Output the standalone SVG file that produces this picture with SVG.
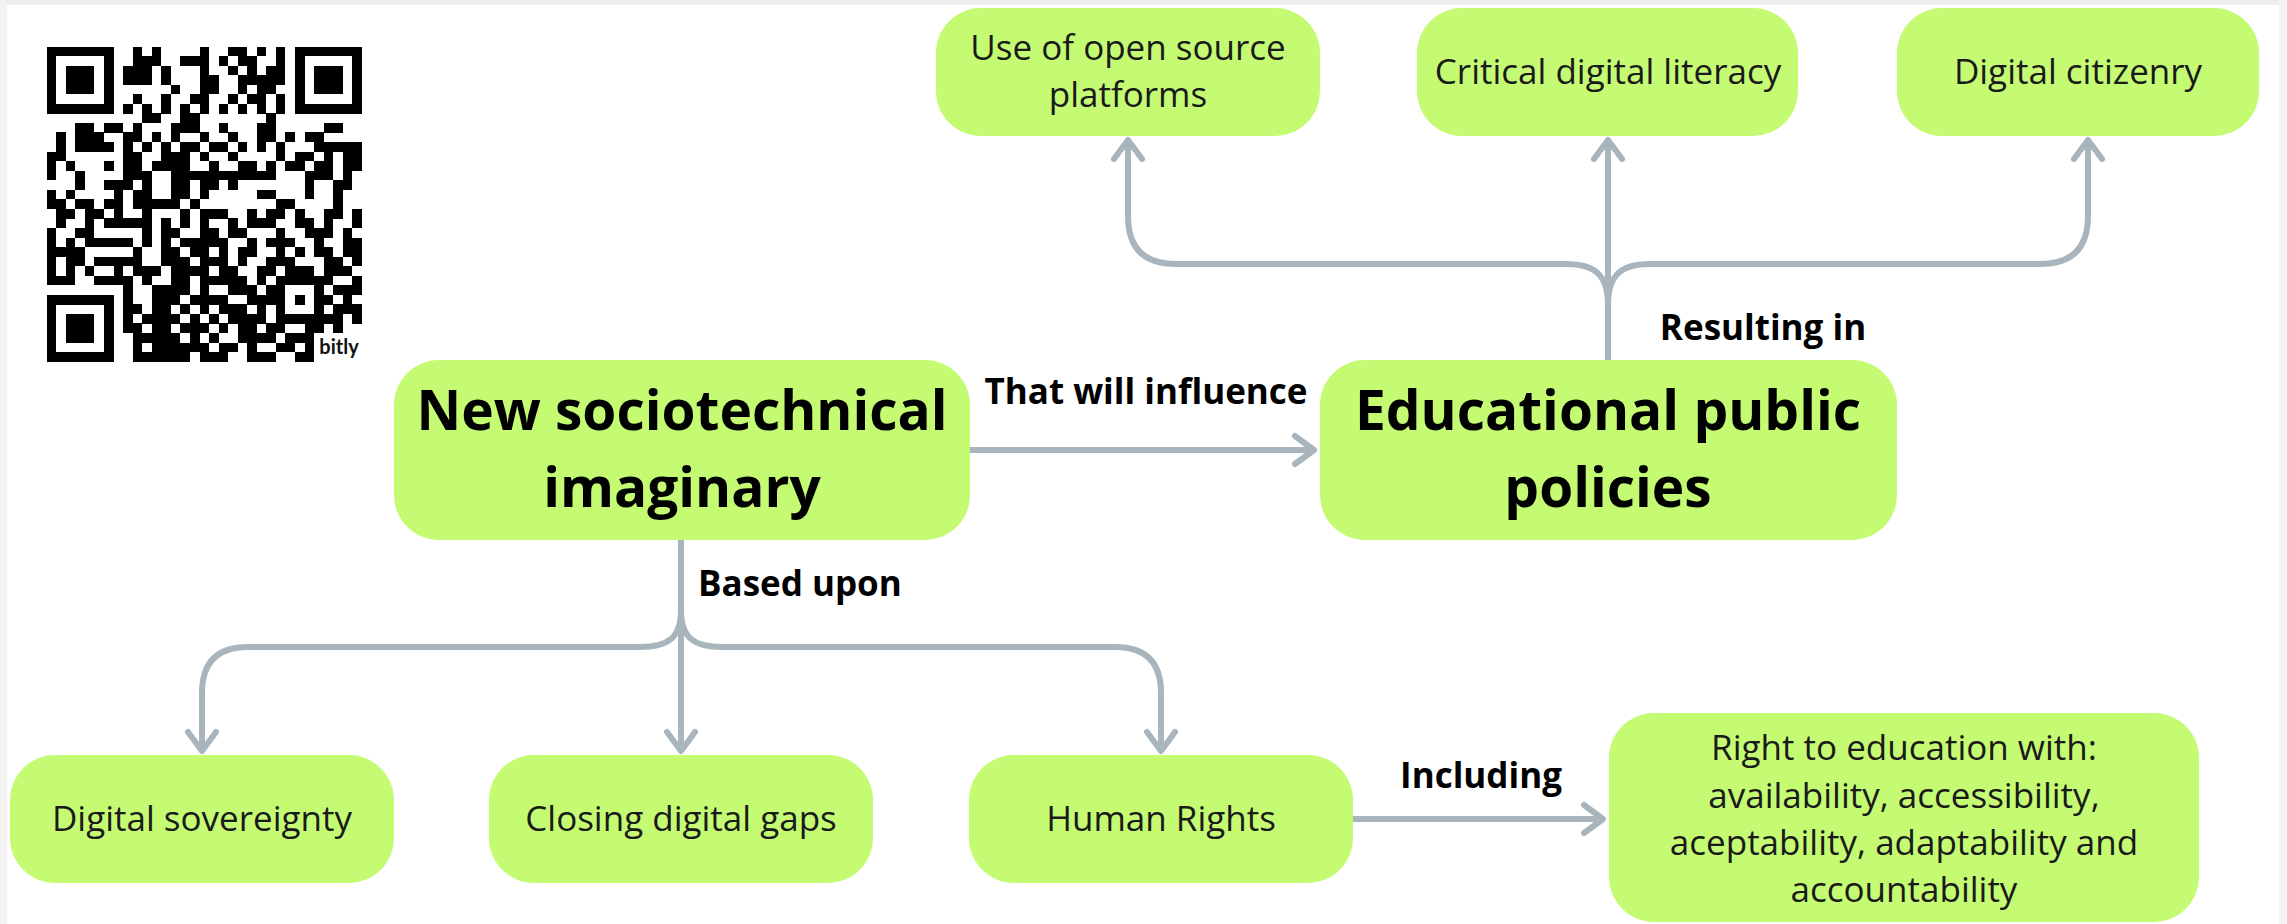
<svg xmlns="http://www.w3.org/2000/svg" width="2287" height="924" viewBox="0 0 2287 924">
<style>
.nd{fill:#c4fb72}
.t{font-family:'Open Sans','Liberation Sans',sans-serif;fill:#1a1a1a;text-anchor:middle;font-size:35px}
.big{font-family:'Open Sans','Liberation Sans',sans-serif;fill:#000;text-anchor:middle;font-size:55px;font-weight:700}
.lbl{font-family:'Open Sans','Liberation Sans',sans-serif;fill:#000;font-size:35px;font-weight:700}
.conn{fill:none;stroke:#a9b5bd;stroke-width:6}
</style>
<defs>
<marker id="ah" markerUnits="userSpaceOnUse" viewBox="-26 -18 30 36" markerWidth="30" markerHeight="36" refX="0" refY="0" orient="auto" overflow="visible">
<path d="M-20 -14L-1 0L-20 14" fill="none" stroke="#a9b5bd" stroke-width="6" stroke-linecap="round" stroke-linejoin="round"/>
</marker>
</defs>
<rect width="2287" height="924" fill="#fff"/>
<rect x="0" y="0" width="2287" height="5" fill="#eeeeee"/>
<rect x="0" y="0" width="7" height="924" fill="#f2f2f2"/>
<rect x="2279" y="0" width="8" height="924" fill="#f2f2f2"/>

<g id="qr">
<path transform="translate(46.7 46.6) scale(9.55)" fill="none" stroke="#000" stroke-width="1.02" shape-rendering="crispEdges" d="M0 .5h7M9 .5h1M11 .5h1M16 .5h1M19 .5h2M22 .5h1M24 .5h1M26 .5h7M0 1.5h1M6 1.5h1M9 1.5h3M14 1.5h3M18 1.5h1M20 1.5h2M24 1.5h1M26 1.5h1M32 1.5h1M0 2.5h1M2 2.5h3M6 2.5h1M8 2.5h3M12 2.5h1M16 2.5h1M19 2.5h1M21 2.5h1M23 2.5h2M26 2.5h1M28 2.5h3M32 2.5h1M0 3.5h1M2 3.5h3M6 3.5h1M8 3.5h3M12 3.5h1M16 3.5h2M20 3.5h5M26 3.5h1M28 3.5h3M32 3.5h1M0 4.5h1M2 4.5h3M6 4.5h1M13 4.5h1M16 4.5h2M20 4.5h1M22 4.5h2M26 4.5h1M28 4.5h3M32 4.5h1M0 5.5h1M6 5.5h1M9 5.5h1M12 5.5h1M15 5.5h2M19 5.5h1M21 5.5h2M24 5.5h1M26 5.5h1M32 5.5h1M0 6.5h7M8 6.5h1M10 6.5h1M12 6.5h1M14 6.5h1M16 6.5h1M18 6.5h1M20 6.5h1M22 6.5h1M24 6.5h1M26 6.5h7M10 7.5h2M14 7.5h2M23 7.5h1M3 8.5h2M6 8.5h2M9 8.5h1M13 8.5h3M18 8.5h1M22 8.5h2M29 8.5h2M1 9.5h1M3 9.5h3M8 9.5h2M11 9.5h1M13 9.5h1M16 9.5h1M19 9.5h1M22 9.5h2M25 9.5h1M27 9.5h2M1 10.5h1M3 10.5h4M8 10.5h1M10 10.5h1M12 10.5h1M14 10.5h2M17 10.5h2M20 10.5h1M22 10.5h1M24 10.5h1M28 10.5h5M0 11.5h2M8 11.5h2M12 11.5h3M16 11.5h1M19 11.5h1M24 11.5h1M26 11.5h2M29 11.5h1M31 11.5h2M0 12.5h1M2 12.5h1M6 12.5h1M8 12.5h2M11 12.5h4M17 12.5h1M20 12.5h2M23 12.5h1M25 12.5h2M28 12.5h2M31 12.5h2M0 13.5h1M3 13.5h1M8 13.5h3M13 13.5h11M27 13.5h3M31 13.5h1M3 14.5h1M6 14.5h3M10 14.5h1M13 14.5h2M16 14.5h2M19 14.5h1M27 14.5h1M30 14.5h2M0 15.5h1M2 15.5h1M7 15.5h1M9 15.5h2M13 15.5h2M16 15.5h1M22 15.5h2M27 15.5h1M30 15.5h1M0 16.5h2M3 16.5h2M6 16.5h2M9 16.5h5M15 16.5h1M24 16.5h2M30 16.5h1M1 17.5h2M4 17.5h2M7 17.5h1M10 17.5h1M14 17.5h1M16 17.5h3M21 17.5h1M23 17.5h2M26 17.5h1M29 17.5h2M32 17.5h1M1 18.5h1M4 18.5h1M6 18.5h5M12 18.5h1M14 18.5h1M16 18.5h1M19 18.5h1M21 18.5h3M26 18.5h2M29 18.5h1M32 18.5h1M0 19.5h1M3 19.5h2M10 19.5h1M12 19.5h2M16 19.5h2M19 19.5h2M24 19.5h1M27 19.5h3M31 19.5h1M0 20.5h1M2 20.5h1M4 20.5h5M10 20.5h1M12 20.5h1M14 20.5h5M21 20.5h1M23 20.5h3M28 20.5h1M31 20.5h2M0 21.5h4M9 21.5h1M12 21.5h2M15 21.5h2M18 21.5h1M20 21.5h2M24 21.5h1M26 21.5h1M28 21.5h2M31 21.5h2M0 22.5h1M2 22.5h2M5 22.5h5M12 22.5h3M16 22.5h3M20 22.5h1M23 22.5h3M29 22.5h2M32 22.5h1M0 23.5h1M2 23.5h1M4 23.5h1M7 23.5h1M9 23.5h3M13 23.5h4M18 23.5h2M22 23.5h2M25 23.5h3M29 23.5h3M0 24.5h3M5 24.5h4M10 24.5h1M13 24.5h2M16 24.5h5M22 24.5h1M24 24.5h6M32 24.5h1M8 25.5h1M11 25.5h4M16 25.5h1M19 25.5h3M23 25.5h2M28 25.5h1M30 25.5h3M0 26.5h7M8 26.5h1M11 26.5h3M15 26.5h4M21 26.5h4M26 26.5h1M28 26.5h2M31 26.5h1M0 27.5h1M6 27.5h1M8 27.5h2M11 27.5h2M14 27.5h1M16 27.5h1M18 27.5h3M22 27.5h1M24 27.5h1M28 27.5h1M30 27.5h3M0 28.5h1M2 28.5h3M6 28.5h1M8 28.5h1M10 28.5h4M15 28.5h1M17 28.5h1M19 28.5h4M24 28.5h7M32 28.5h1M0 29.5h1M2 29.5h3M6 29.5h1M8 29.5h2M11 29.5h2M14 29.5h3M18 29.5h1M20 29.5h2M23 29.5h2M27 29.5h2M30 29.5h1M0 30.5h1M2 30.5h3M6 30.5h1M9 30.5h5M15 30.5h1M17 30.5h1M20 30.5h4M25 30.5h3M0 31.5h1M6 31.5h1M9 31.5h1M11 31.5h6M18 31.5h2M21 31.5h1M24 31.5h2M27 31.5h1M0 32.5h7M9 32.5h6M16 32.5h3M21 32.5h3M26 32.5h2"/>
<text x="339" y="354" font-family="Lato,'Liberation Sans',sans-serif" font-weight="700" font-size="20" fill="#111" text-anchor="middle">bitly</text>
</g>

<g id="connectors">
<path class="conn" d="M970 450H1315" marker-end="url(#ah)"/>
<path class="conn" d="M1608 360V139" marker-end="url(#ah)"/>
<path class="conn" d="M1608 305C1608 276 1596 264 1566 264H1176Q1128 264 1128 216V139" marker-end="url(#ah)"/>
<path class="conn" d="M1608 305C1608 276 1620 264 1650 264H2040Q2088 264 2088 216V139" marker-end="url(#ah)"/>
<path class="conn" d="M681 540V752" marker-end="url(#ah)"/>
<path class="conn" d="M681 610C681 638 668 647 640 647H248Q202 647 202 693V752" marker-end="url(#ah)"/>
<path class="conn" d="M681 610C681 638 694 647 722 647H1115Q1161 647 1161 693V752" marker-end="url(#ah)"/>
<path class="conn" d="M1353 819H1604" marker-end="url(#ah)"/>
<text class="lbl" x="1146" y="404" text-anchor="middle">That will influence</text>
<text class="lbl" x="1763" y="340" text-anchor="middle">Resulting in</text>
<text class="lbl" x="698" y="596">Based upon</text>
<text class="lbl" x="1481" y="788" text-anchor="middle">Including</text>
</g>

<g id="n-open-source">
<rect class="nd" x="936" y="8" width="384" height="128" rx="45"/>
<text class="t" x="1128" y="60">Use of open source</text>
<text class="t" x="1128" y="107">platforms</text>
</g>
<g id="n-critical">
<rect class="nd" x="1417" y="8" width="381" height="128" rx="45"/>
<text class="t" x="1608" y="84">Critical digital literacy</text>
</g>
<g id="n-citizenry">
<rect class="nd" x="1897" y="8" width="362" height="128" rx="45"/>
<text class="t" x="2078" y="84">Digital citizenry</text>
</g>
<g id="n-imaginary">
<rect class="nd" x="394" y="360" width="576" height="180" rx="45"/>
<text class="big" x="682" y="430">New sociotechnical</text>
<text class="big" x="682" y="507">imaginary</text>
</g>
<g id="n-policies">
<rect class="nd" x="1320" y="360" width="577" height="180" rx="45"/>
<text class="big" x="1608" y="430">Educational public</text>
<text class="big" x="1608" y="507">policies</text>
</g>
<g id="n-sovereignty">
<rect class="nd" x="10" y="755" width="384" height="128" rx="45"/>
<text class="t" x="202" y="831">Digital sovereignty</text>
</g>
<g id="n-gaps">
<rect class="nd" x="489" y="755" width="384" height="128" rx="45"/>
<text class="t" x="681" y="831">Closing digital gaps</text>
</g>
<g id="n-rights">
<rect class="nd" x="969" y="755" width="384" height="128" rx="45"/>
<text class="t" x="1161" y="831">Human Rights</text>
</g>
<g id="n-education">
<rect class="nd" x="1609" y="713" width="590" height="209" rx="45"/>
<text class="t" x="1904" y="760">Right to education with:</text>
<text class="t" x="1904" y="808">availability, accessibility,</text>
<text class="t" x="1904" y="855">aceptability, adaptability and</text>
<text class="t" x="1904" y="902">accountability</text>
</g>
</svg>
